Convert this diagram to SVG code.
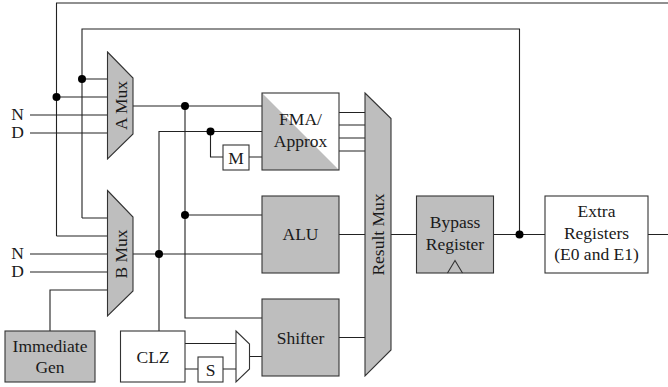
<svg xmlns="http://www.w3.org/2000/svg" width="668" height="387" viewBox="0 0 668 387">
<style>
text{font-family:"Liberation Serif","Times New Roman",serif;fill:#1a1a1a;font-size:17.500px;text-anchor:middle}
.g{fill:#bebebe;stroke:#333;stroke-width:1.100}
.w{fill:#fff;stroke:#333;stroke-width:1.100}
.t{fill:none;stroke:#333;stroke-width:1.100}
#connectors path{fill:none;stroke:#222;stroke-width:1.100}
#connectors circle{fill:#000}
</style>
<g id="connectors">
<path d="M56.500 236H107.500M56.500 236V3H668"/>
<path d="M82 218H107.500M82 218V29H519.500V234.500"/>
<path d="M56.500 97H107.500M82 79H107.500M30 115H107.500M30 133H107.500"/>
<path d="M133 106H262M185 106V318H262M185 215H262"/>
<path d="M159 331V131.500H262M210.500 131.500V157H223M249 157H262"/>
<path d="M30 254H107.500M30 272H107.500M50 331V290H107.500"/>
<path d="M133 254H262"/>
<path d="M185 343.500H236M185 369H198M223 369H236M249.500 356.500H262"/>
<path d="M339 112.500H365M339 125H365M339 138H365M339 151H365M339 234.500H365M339 337.500H365"/>
<path d="M391 234.500H416.500M493 234.500H545M648 234.500H668"/>
<circle cx="56.500" cy="97" r="4"/>
<circle cx="82" cy="79" r="4"/>
<circle cx="185" cy="106" r="4"/>
<circle cx="210.500" cy="131.500" r="4"/>
<circle cx="185" cy="215" r="4"/>
<circle cx="159" cy="254" r="4"/>
<circle cx="519.500" cy="234.500" r="4"/>
</g>
<g id="a-mux"><path class="g" d="M107.500 52L133 78V134L107.500 159Z"/><text transform="translate(127 105.500) rotate(-90)">A Mux</text></g>
<g id="b-mux"><path class="g" d="M107.500 190.500L133 217V291L107.500 316Z"/><text transform="translate(127 254) rotate(-90)">B Mux</text></g>
<g id="n-a"><text x="17.500" y="120">N</text></g>
<g id="d-a"><text x="17.500" y="138">D</text></g>
<g id="n-b"><text x="17.500" y="259">N</text></g>
<g id="d-b"><text x="17.500" y="277">D</text></g>
<g id="immediate"><rect class="g" x="5" y="331" width="90" height="51"/><text x="50" y="351.500">Immediate</text><text x="50" y="373">Gen</text></g>
<g id="clz"><rect class="w" x="120.500" y="331" width="64.500" height="51"/><text x="153" y="362.500">CLZ</text></g>
<g id="s"><rect class="w" x="198" y="357" width="25" height="25"/><text x="210.500" y="376">S</text></g>
<g id="small-mux"><path class="w" d="M236 331L249.500 344V369L236 382Z"/></g>
<g id="m"><rect class="w" x="223" y="145" width="26" height="25"/><text x="236" y="163.500">M</text></g>
<g id="fma"><rect fill="#fff" x="262" y="93" width="77" height="77"/><path fill="#bebebe" d="M262 93L339 170H262Z"/><rect class="t" x="262" y="93" width="77" height="77"/><text x="300.500" y="124.500">FMA/</text><text x="300.500" y="146.500">Approx</text></g>
<g id="alu"><rect class="g" x="262" y="196" width="77" height="77"/><text x="300.500" y="240">ALU</text></g>
<g id="shifter"><rect class="g" x="262" y="299" width="77" height="77"/><text x="300.500" y="344">Shifter</text></g>
<g id="result-mux"><path class="g" d="M365 93L391 118.500V350L365 376Z"/><text transform="translate(384 234.500) rotate(-90)">Result Mux</text></g>
<g id="bypass"><rect class="g" x="416.500" y="196" width="77" height="77"/><text x="455" y="228">Bypass</text><text x="455" y="249.500">Register</text><path class="t" d="M447.500 273L455 260.500L462.500 273"/></g>
<g id="extra"><rect class="w" x="545" y="196" width="103" height="77"/><text x="596.500" y="217">Extra</text><text x="596.500" y="238.500">Registers</text><text x="596.500" y="260">(E0 and E1)</text></g>
</svg>
